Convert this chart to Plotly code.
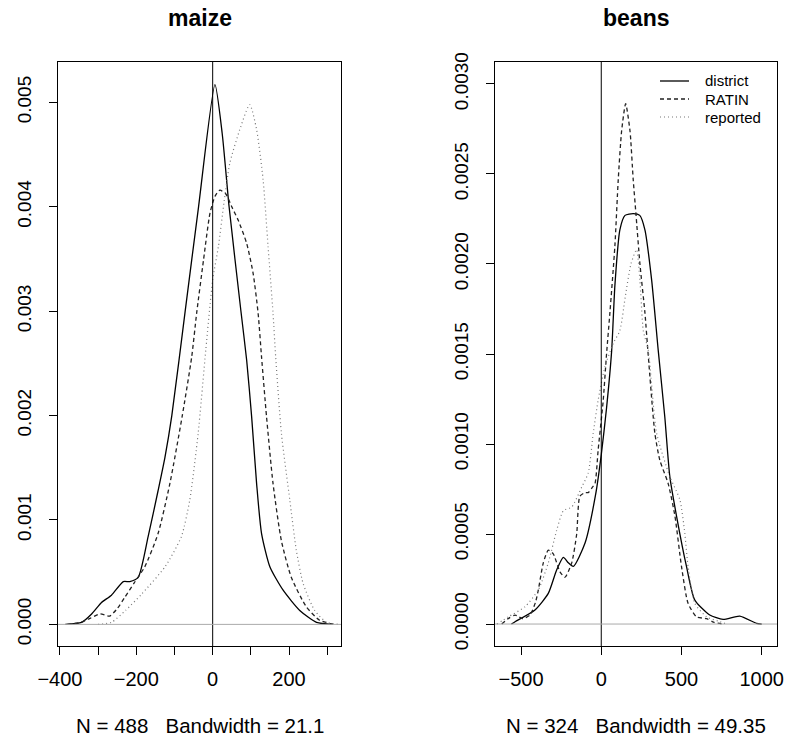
import plotly.graph_objects as go

# ---------------- data ----------------
maize_district_x = [-386, -343, -317, -291, -265, -234, -217, -195, -169, -143, -125, -107, -72, -37, 6,
                    25, 43, 74, 89, 102, 115, 128, 150, 184, 228, 272, 315]
maize_district_y = [0, 0.00002, 0.0001, 0.00021, 0.00028, 0.00041, 0.00041, 0.00045, 0.00084, 0.00128,
                    0.0016, 0.002, 0.003, 0.004, 0.00517, 0.0047, 0.004, 0.003, 0.00253,
                    0.00199, 0.00135, 0.00087, 0.00055, 0.00033, 0.000134, 0.00002, 0]

maize_ratin_x = [-380, -345, -320, -295, -270, -250, -230, -205, -178, -143, -112, -80, -55, -42, -24, -7,
                 6, 19, 35, 50, 67, 89, 106, 119, 128, 141, 158, 180, 206, 245, 280, 318]
maize_ratin_y = [0, 0.00002, 0.00006, 0.0001, 0.00008, 0.00015, 0.00026, 0.0004, 0.00055, 0.00087,
                 0.00135, 0.00199, 0.00256, 0.00298, 0.00349, 0.00394, 0.0041, 0.00416, 0.00412, 0.004,
                 0.00387, 0.00365, 0.00336, 0.00298, 0.00256, 0.00199, 0.00135, 0.0008, 0.00045,
                 0.00017, 0.00004, 0]

maize_reported_x = [-300, -265, -228, -186, -125, -82, -60, -38, -18, 0, 15, 30, 45, 71, 97, 115, 132,
                    145, 158, 165, 180, 202, 219, 237, 267, 298, 330]
maize_reported_y = [0, 0.00002, 0.000134, 0.00029, 0.00055, 0.00084, 0.00119, 0.00183, 0.00263, 0.0033,
                    0.00362, 0.00405, 0.00442, 0.00474, 0.00498, 0.00474, 0.00426, 0.00362, 0.00298,
                    0.00256, 0.00183, 0.00119, 0.00071, 0.00039, 0.000134, 0.00002, 0]

beans_district_x = [-560, -537, -413, -330, -278, -236, -205, -174, -101, -35, 0, 33, 65, 85, 116, 148,
                    200, 240, 272, 314, 355, 396, 427, 469, 531, 583, 676, 759, 863, 967, 1000]
beans_district_y = [0, 0.000013, 0.000078, 0.00017, 0.0003, 0.00037, 0.00034, 0.00032, 0.00045, 0.00072,
                    0.00094, 0.0012, 0.00152, 0.00188, 0.00219, 0.00227, 0.00228, 0.00227, 0.00219,
                    0.00191, 0.00152, 0.00115, 0.00082, 0.0006, 0.00032, 0.000133, 0.00005, 0.000026,
                    0.000044, 0.000004, 0]

beans_ratin_x = [-620, -580, -537, -490, -444, -410, -392, -361, -330, -299, -257, -226, -184, -153, -133,
                 -100, -81, -55, -39, -19, 12, 33, 54, 85, 106, 127, 152, 179, 199, 216, 241, 272, 293,
                 334, 365, 417, 459, 500, 541, 594, 656, 700, 759]
beans_ratin_y = [0, 0.00003, 0.00005, 0.00003, 0.00005, 0.00012, 0.00019, 0.00034, 0.00041, 0.00039,
                 0.00029, 0.00026, 0.00034, 0.0005, 0.00071, 0.00073, 0.00073, 0.00076, 0.00078, 0.00097,
                 0.00124, 0.0015, 0.00173, 0.0021, 0.00247, 0.00274, 0.00289, 0.00274, 0.00247, 0.00228,
                 0.002, 0.00173, 0.00149, 0.00106, 0.00091, 0.00078, 0.0006, 0.00032, 0.000115, 0.00004,
                 0.00003, 0.00001, 0]

beans_reported_x = [-650, -579, -475, -392, -330, -278, -236, -184, -122, -81, -50, -20, 23, 75, 116, 150,
                    185, 220, 241, 262, 293, 345, 427, 490, 521, 541, 583, 656, 739, 780]
beans_reported_y = [0, 0.00004, 0.000096, 0.00019, 0.00034, 0.00052, 0.00063, 0.00065, 0.00076, 0.00084,
                    0.00106, 0.00124, 0.00143, 0.00156, 0.00163, 0.00182, 0.002, 0.00208, 0.00191,
                    0.00163, 0.00152, 0.00106, 0.00082, 0.00069, 0.0005, 0.00032, 0.000115, 0.00004,
                    0.000013, 0]

panel_titles = ["maize", "beans"]
panel_notes = ["N = 488   Bandwidth = 21.1", "N = 324   Bandwidth = 49.35"]
series_names = ["district", "RATIN", "reported"]

maize_xticks = [-400, -300, -200, -100, 0, 100, 200, 300]
maize_xtext = ["\u2212400", "", "\u2212200", "", "0", "", "200", ""]
maize_yticks = [0, 0.001, 0.002, 0.003, 0.004, 0.005]
maize_ytext = ["0.000", "0.001", "0.002", "0.003", "0.004", "0.005"]
beans_xticks = [-500, 0, 500, 1000]
beans_xtext = ["\u2212500", "0", "500", "1000"]
beans_yticks = [0, 0.0005, 0.001, 0.0015, 0.002, 0.0025, 0.003]
beans_ytext = ["0.0000", "0.0005", "0.0010", "0.0015", "0.0020", "0.0025", "0.0030"]

# ---------------- figure ----------------
W, H = 785, 738
FONT = "Liberation Sans, Arial, Helvetica, sans-serif"
styles = [dict(color="black", width=1.3, dash="solid"),
          dict(color="#222222", width=1.3, dash="4px,3px"),
          dict(color="#777777", width=1.2, dash="1px,3px")]

fig = go.Figure()
panels = [
    ("x", "y", [(maize_district_x, maize_district_y), (maize_ratin_x, maize_ratin_y),
                (maize_reported_x, maize_reported_y)]),
    ("x2", "y2", [(beans_district_x, beans_district_y), (beans_ratin_x, beans_ratin_y),
                  (beans_reported_x, beans_reported_y)]),
]
for xa, ya, curves in panels:
    for (cx, cy), st, nm in zip(curves, styles, series_names):
        fig.add_trace(go.Scatter(x=cx, y=cy, mode="lines", name=nm, xaxis=xa, yaxis=ya,
                                 line=dict(shape="spline", smoothing=0.6, **st),
                                 showlegend=False))

def px_x(p):
    return p / W

def px_y(p):
    return 1 - p / H

axis_common = dict(showgrid=False, zeroline=False, showline=True, mirror=True, automargin=False,
                   linecolor="black", linewidth=1, ticks="outside", ticklen=8,
                   tickcolor="black", tickwidth=1)
xfont = dict(size=20)
yfont = dict(size=19)

fig.update_layout(
    width=W, height=H, margin=dict(l=0, r=0, t=0, b=0, autoexpand=False),
    paper_bgcolor="white", plot_bgcolor="white",
    font=dict(family=FONT, color="black"),
    xaxis=dict(domain=[px_x(58), px_x(341)], range=[-405, 336], tickvals=maize_xticks,
               ticktext=maize_xtext, tickfont=xfont, ticklabelstandoff=7, anchor="y",
               **axis_common),
    yaxis=dict(domain=[px_y(646), px_y(62)], range=[-0.000207, 0.005387], tickvals=maize_yticks,
               ticktext=maize_ytext, tickangle=-90, tickfont=yfont, ticklabelstandoff=10,
               anchor="x", **axis_common),
    xaxis2=dict(domain=[px_x(495), px_x(777)], range=[-662, 1095], tickvals=beans_xticks,
                ticktext=beans_xtext, tickfont=xfont, ticklabelstandoff=7, anchor="y2",
                **axis_common),
    yaxis2=dict(domain=[px_y(646), px_y(62)], range=[-0.000122, 0.003122], tickvals=beans_yticks,
                ticktext=beans_ytext, tickangle=-90, tickfont=yfont, ticklabelstandoff=10,
                anchor="x2", **axis_common),
)

# reference lines: vertical at 0 (black), horizontal at density 0 (grey)
for xr, yr in [("x", "y"), ("x2", "y2")]:
    fig.add_shape(type="line", xref=xr, yref=yr + " domain", x0=0, x1=0, y0=0, y1=1,
                  line=dict(color="black", width=1))
    fig.add_shape(type="line", xref=xr + " domain", yref=yr, x0=0, x1=1, y0=0, y1=0,
                  line=dict(color="#aaaaaa", width=1))

# titles and bandwidth notes
centers = [px_x(199.5), px_x(636)]
for cx, t, n in zip(centers, panel_titles, panel_notes):
    fig.add_annotation(text="<b>%s</b>" % t, x=cx, y=px_y(18), xref="paper", yref="paper",
                       showarrow=False, font=dict(size=23, family=FONT), xanchor="center",
                       yanchor="middle")
    fig.add_annotation(text=n, x=cx, y=px_y(725), xref="paper", yref="paper", showarrow=False,
                       font=dict(size=20.5, family=FONT), xanchor="center", yanchor="middle")

# legend (no box), in beans panel
for i, (st, nm) in enumerate(zip(styles, series_names)):
    yy = px_y(81 + 18 * i)
    fig.add_shape(type="line", xref="paper", yref="paper", x0=px_x(660), x1=px_x(689),
                  y0=yy, y1=yy, line=st)
    fig.add_annotation(text=nm, x=px_x(703), y=yy, xref="paper", yref="paper", showarrow=False,
                       font=dict(size=15, family=FONT), xanchor="left", yanchor="middle")

fig.write_html("out.html", config={"displayModeBar": False},
               post_script="document.body.style.margin='0';document.body.style.overflow='hidden';")
